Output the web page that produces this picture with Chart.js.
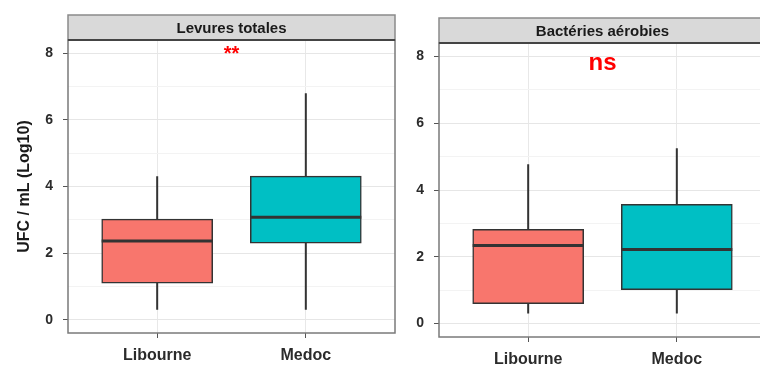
<!DOCTYPE html>
<html>
<head>
<meta charset="utf-8">
<script src="https://cdn.jsdelivr.net/npm/chart.js@4/dist/chart.umd.min.js"></script>
<style>
  body { margin: 0; width: 760px; height: 372px; overflow: hidden; background: #fff; position: relative; }
  #c1 { position: absolute; left: 0; top: 0; }
  #c2 { position: absolute; left: 400px; top: 0; }
</style>
</head>
<body>
<canvas id="c1" width="400" height="372" style="width:400px;height:372px"></canvas>
<canvas id="c2" width="372" height="372" style="width:372px;height:372px"></canvas>
<script>
const groups = ["Libourne", "Medoc"];
const boxColors = ["#F8766D", "#00BFC4"];
const yTickValues = [0, 1, 2, 3, 4, 5, 6, 7, 8];

// Levures totales
const yeastLow = [0.3, 0.3];
const yeastQ1 = [1.1, 2.3];
const yeastMed = [2.36, 3.08];
const yeastQ3 = [3.02, 4.31];
const yeastHigh = [4.31, 6.8];

// Bactéries aérobies
const bactLow = [0.3, 0.3];
const bactQ1 = [0.6, 1.02];
const bactMed = [2.34, 2.22];
const bactQ3 = [2.82, 3.57];
const bactHigh = [4.77, 5.25];

const TICK_FONT = "'Liberation Sans', Arial, sans-serif";

// whiskers, medians, panel border, strip and significance label
const boxPlugin = {
  id: "boxExtras",
  beforeDatasetsDraw(chart, args, opts) {
    const ctx = chart.ctx, x = chart.scales.x, y = chart.scales.y;
    ctx.save();
    ctx.strokeStyle = "#333";
    ctx.lineWidth = 2;
    groups.forEach((g, i) => {
      const px = x.getPixelForValue(i + 1);
      ctx.beginPath();
      ctx.moveTo(px, y.getPixelForValue(opts.low[i]));
      ctx.lineTo(px, y.getPixelForValue(opts.q1[i]));
      ctx.moveTo(px, y.getPixelForValue(opts.q3[i]));
      ctx.lineTo(px, y.getPixelForValue(opts.high[i]));
      ctx.stroke();
    });
    ctx.restore();
  },
  afterDatasetsDraw(chart, args, opts) {
    const ctx = chart.ctx, y = chart.scales.y;
    const meta = chart.getDatasetMeta(0);
    ctx.save();
    ctx.strokeStyle = "#333";
    ctx.lineWidth = 3;
    meta.data.forEach((bar, i) => {
      const py = y.getPixelForValue(opts.med[i]);
      ctx.beginPath();
      ctx.moveTo(bar.x - bar.width / 2, py);
      ctx.lineTo(bar.x + bar.width / 2, py);
      ctx.stroke();
    });
    ctx.restore();
  },
  afterDraw(chart, args, opts) {
    const ctx = chart.ctx, a = chart.chartArea;
    const x = chart.scales.x, y = chart.scales.y;
    ctx.save();
    // panel border
    ctx.strokeStyle = "#7a7a7a";
    ctx.lineWidth = 1.5;
    ctx.strokeRect(a.left, a.top, a.right - a.left, a.bottom - a.top);
    // strip
    const st = opts.stripTop;
    ctx.fillStyle = "#d9d9d9";
    ctx.fillRect(a.left, st, a.right - a.left, a.top - st);
    ctx.strokeStyle = "#8a8a8a";
    ctx.strokeRect(a.left, st, a.right - a.left, a.top - st);
    ctx.strokeStyle = "#444";
    ctx.lineWidth = 2;
    ctx.beginPath();
    ctx.moveTo(a.left, a.top);
    ctx.lineTo(a.right, a.top);
    ctx.stroke();
    ctx.fillStyle = "#1a1a1a";
    ctx.font = "bold 15px " + TICK_FONT;
    ctx.textAlign = "center";
    ctx.textBaseline = "middle";
    ctx.fillText(opts.strip, (a.left + a.right) / 2, (st + a.top) / 2 + 1);
    // significance
    ctx.fillStyle = "#ff0000";
    ctx.font = "bold " + opts.sigSize + "px " + TICK_FONT;
    ctx.fillText(opts.sig, x.getPixelForValue(1.5), y.getPixelForValue(opts.sigY));
    ctx.restore();
  }
};

function makeChart(id, q1, q3, extras, yWidth, xHeight, padding, showTitle) {
  return new Chart(document.getElementById(id), {
    type: "bar",
    data: {
      datasets: [{
        data: groups.map((g, i) => ({ x: i + 1, y: [q1[i], q3[i]] })),
        backgroundColor: boxColors,
        borderColor: "#333",
        borderWidth: 1.5,
        borderSkipped: false,
        barThickness: 111
      }]
    },
    options: {
      responsive: false,
      animation: false,
      layout: { padding: padding },
      plugins: {
        legend: { display: false },
        tooltip: { enabled: false },
        boxExtras: extras
      },
      scales: {
        x: {
          type: "linear",
          offset: false,
          min: 0.4,
          max: 2.6,
          afterBuildTicks: s => { s.ticks = groups.map((g, i) => ({ value: i + 1 })); },
          afterFit: s => { s.height = xHeight; },
          ticks: {
            callback: v => groups[v - 1],
            font: { family: TICK_FONT, size: 16, weight: "bold" },
            color: "#2b2b2b",
            padding: 8,
            maxRotation: 0
          },
          grid: { offset: false, color: "#e8e8e8", tickColor: "#555", tickLength: 5 },
          border: { display: false }
        },
        y: {
          min: -0.4,
          max: 8.4,
          afterBuildTicks: s => { s.ticks = yTickValues.map(v => ({ value: v })); },
          afterFit: s => { s.width = yWidth; },
          ticks: {
            callback: v => (v % 2 === 0 ? v : ""),
            font: { family: TICK_FONT, size: 14, weight: "bold" },
            color: "#2b2b2b",
            padding: 10
          },
          grid: {
            color: c => (c.tick && c.tick.value % 2 ? "#f3f3f3" : "#e6e6e6"),
            tickColor: c => (c.tick && c.tick.value % 2 ? "rgba(0,0,0,0)" : "#555"),
            tickLength: 5
          },
          border: { display: false },
          title: {
            display: showTitle,
            text: "UFC / mL (Log10)",
            font: { family: TICK_FONT, size: 16, weight: "bold" },
            color: "#1a1a1a",
            padding: { top: 15, bottom: 0 }
          }
        }
      }
    },
    plugins: [boxPlugin]
  });
}

makeChart("c1", yeastQ1, yeastQ3, {
  low: yeastLow, q1: yeastQ1, med: yeastMed, q3: yeastQ3, high: yeastHigh,
  strip: "Levures totales", stripTop: 15, sig: "**", sigY: 7.95, sigSize: 20
}, 68, 39, { top: 40, right: 5, left: 0, bottom: 0 }, true);

makeChart("c2", bactQ1, bactQ3, {
  low: bactLow, q1: bactQ1, med: bactMed, q3: bactQ3, high: bactHigh,
  strip: "Bactéries aérobies", stripTop: 18, sig: "ns", sigY: 7.8, sigSize: 24
}, 39, 35, { top: 43, right: 6, left: 0, bottom: 0 }, false);
</script>
</body>
</html>
